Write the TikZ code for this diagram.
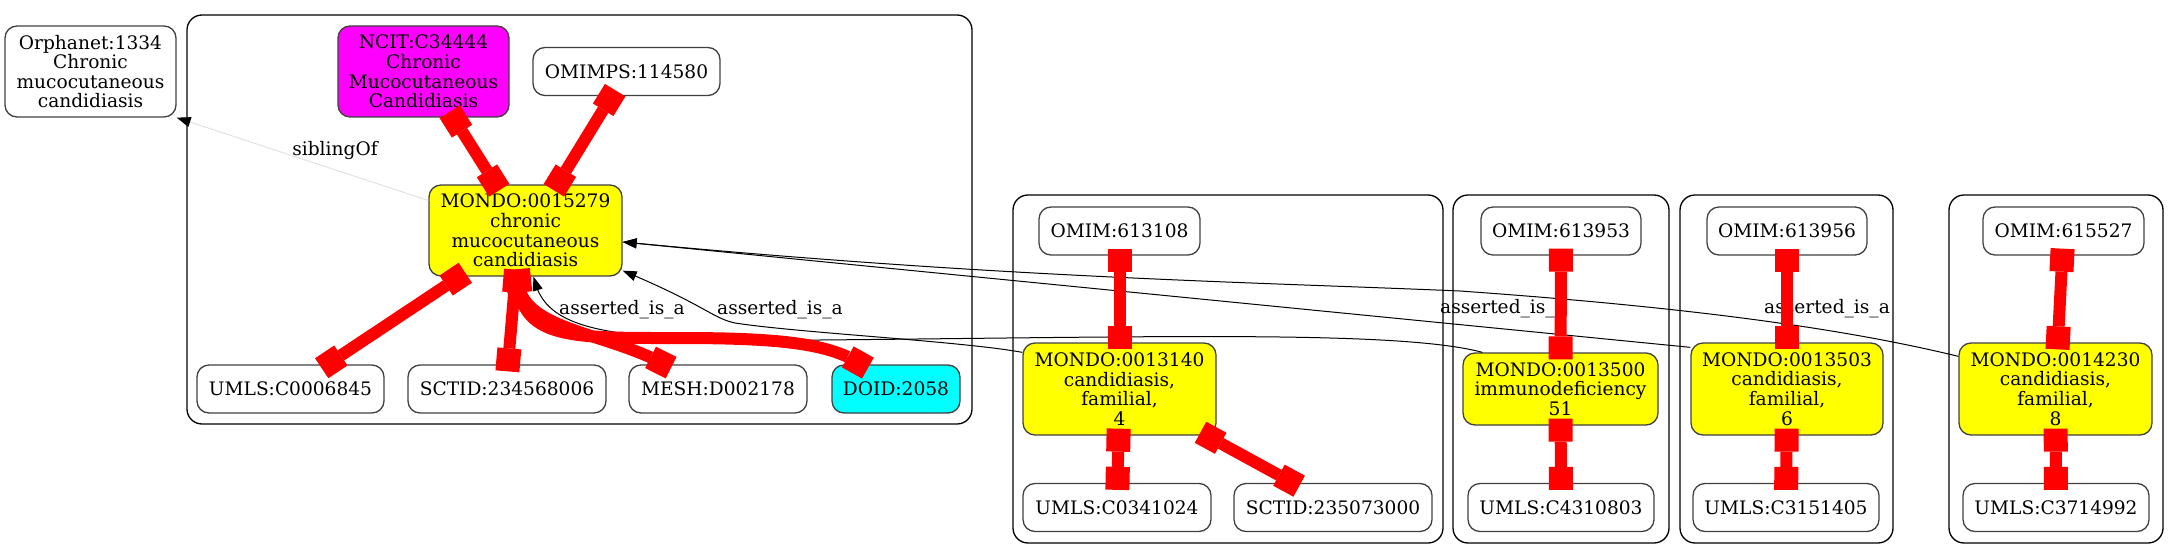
\documentclass[tikz,border=0pt]{standalone}
\usepackage{fontspec}
\setmainfont{DejaVu Serif}
\usepackage{tikz}
\usetikzlibrary{arrows.meta, bending}
\definecolor{borderGray}{RGB}{64, 64, 64}
\definecolor{sibGray}{RGB}{225, 225, 225}
\definecolor{mondoYellow}{RGB}{255, 255, 0}
\definecolor{ncitMagenta}{RGB}{255, 0, 255}
\definecolor{doidCyan}{RGB}{0, 255, 255}
\definecolor{xrefRed}{RGB}{255, 0, 0}

\begin{document}
\begin{tikzpicture}[
  x=1pt, y=-1pt,
  every node/.style={font=\fontsize{18.6}{19.6}\selectfont, align=center, inner sep=0pt},
  term/.style={draw=borderGray, line width=1.3pt, rounded corners=12pt, minimum height=48pt},
  mondo/.style={term, fill=mondoYellow, minimum height=92pt},
  group/.style={draw=black, line width=1.3pt, rounded corners=15pt},
  xref/.style={draw=xrefRed, line width=12pt,
    arrows={Rectangle[length=23pt,width=24pt,line width=0pt]-Rectangle[length=23pt,width=24pt,line width=0pt]},
    shorten <=-7pt, shorten >=-7pt},
  isa/.style={draw=black, line width=1pt, arrows={-Triangle[length=14pt,width=10pt]}},
  sib/.style={draw=sibGray, line width=1pt, arrows={-Triangle[length=14pt,width=10pt,color=black]}}
]
\useasboundingbox (0,0) rectangle (2179,559);

\draw[group] (187,15) rectangle (972,424);
\draw[group] (1013,195) rectangle (1443,543);
\draw[group] (1453,195) rectangle (1669,543);
\draw[group] (1680,195) rectangle (1893,543);
\draw[group] (1949,195) rectangle (2163,543);

\node[term, minimum width=171pt, minimum height=91pt] (orph) at (90.5,71.5) {Orphanet:1334\\Chronic\\mucocutaneous\\candidiasis};
\node[term, fill=ncitMagenta, minimum width=171pt, minimum height=91pt] (ncit) at (423.5,71.5) {NCIT:C34444\\Chronic\\Mucocutaneous\\Candidiasis};
\node[term, minimum width=187pt] (omimps) at (626.5,71.5) {OMIMPS:114580};
\node[mondo, minimum width=193pt, minimum height=91pt] (mondoA) at (525.5,230.5) {MONDO:0015279\\chronic\\mucocutaneous\\candidiasis};
\node[term, minimum width=187pt] (umlsA) at (290.5,389) {UMLS:C0006845};
\node[term, minimum width=198pt] (sctidA) at (507,389) {SCTID:234568006};
\node[term, minimum width=178pt] (meshA) at (718,389) {MESH:D002178};
\node[term, fill=doidCyan, minimum width=128pt] (doid) at (896,389) {DOID:2058};

\node[term, minimum width=161pt] (omimB) at (1119.5,231) {OMIM:613108};
\node[mondo, minimum width=193pt] (mondoB) at (1119.5,389) {MONDO:0013140\\candidiasis,\\familial,\\4};
\node[term, minimum width=188pt] (umlsB) at (1117,507.5) {UMLS:C0341024};
\node[term, minimum width=198pt] (sctidB) at (1333,507.5) {SCTID:235073000};

\node[term, minimum width=160pt] (omimC) at (1561,231) {OMIM:613953};
\node[mondo, minimum width=195pt, minimum height=72pt] (mondoC) at (1560.5,389) {MONDO:0013500\\immunodeficiency\\51};
\node[term, minimum width=186pt] (umlsC) at (1561,507.5) {UMLS:C4310803};

\node[term, minimum width=160pt] (omimD) at (1787,231) {OMIM:613956};
\node[mondo, minimum width=192pt] (mondoD) at (1787,389) {MONDO:0013503\\candidiasis,\\familial,\\6};
\node[term, minimum width=186pt] (umlsD) at (1786,507.5) {UMLS:C3151405};

\node[term, minimum width=161pt] (omimE) at (2063.5,231) {OMIM:615527};
\node[mondo, minimum width=193pt] (mondoE) at (2055.5,389) {MONDO:0014230\\candidiasis,\\familial,\\8};
\node[term, minimum width=186pt] (umlsE) at (2056,507.5) {UMLS:C3714992};

\draw[sib] ([yshift=30pt]mondoA.west) -- (orph.south east);
\draw[isa] ([yshift=-10pt]mondoB.north west) .. controls (960,341) and (800,333) .. (735,323) .. controls (712,318) and (705,305) .. ([yshift=6pt]mondoA.south east);
\draw[isa] ([xshift=20pt]mondoC.north west) .. controls (1400,330) and (1150,337) .. (820,340) .. controls (600,342) and (545,330) .. ([xshift=8pt]mondoA.south);
\draw[isa] ([yshift=-5pt]mondoD.north west) -- ([yshift=-11.5pt]mondoA.east);
\draw[isa] ([yshift=-14pt]mondoE.north west) .. controls (1850,330) and (1700,308) .. (1460,291) .. controls (1250,282) and (1000,278) .. ([yshift=-11.5pt]mondoA.east);

\node (sibLbl) at (335,150) {siblingOf};
\node (isaLblC) at (622,310) {asserted\_is\_a};
\node (isaLblB) at (780,310) {asserted\_is\_a};
\node (isaLblD) at (1503,309) {asserted\_is\_a};
\node (isaLblE) at (1827,309) {asserted\_is\_a};

\draw[xref] ([xshift=30pt]ncit.south) -- ([xshift=-30pt]mondoA.north);
\draw[xref] ([xshift=-15pt]omimps.south) -- ([xshift=32pt]mondoA.north);
\draw[xref] ([xshift=-66pt]mondoA.south) -- ([xshift=37pt]umlsA.north);
\draw[xref] ([xshift=-10pt]mondoA.south) -- ([xshift=1pt]sctidA.north);
\draw[xref] ([xshift=-8pt]mondoA.south) .. controls (518,330) and (600,330) .. ([xshift=-53pt]meshA.north);
\draw[xref] ([xshift=-8pt]mondoA.south) .. controls (520,340) and (570,338) .. (680,338) .. controls (790,338) and (830,345) .. ([xshift=-34pt]doid.north);
\draw[xref] (omimB) -- (mondoB);
\draw[xref] (mondoB) -- (umlsB);
\draw[xref] ([xshift=-10pt]mondoB.south east) -- ([xshift=-40pt]sctidB.north);
\draw[xref] (omimC) -- (mondoC);
\draw[xref] (mondoC) -- (umlsC);
\draw[xref] (omimD) -- (mondoD);
\draw[xref] (mondoD) -- (umlsD);
\draw[xref] (omimE) -- (mondoE);
\draw[xref] (mondoE) -- (umlsE);
\end{tikzpicture}
\end{document}
